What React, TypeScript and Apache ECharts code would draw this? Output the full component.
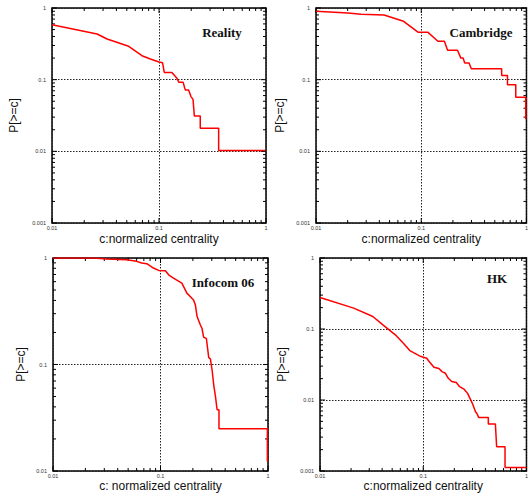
import React, { useEffect, useRef } from "react";
import * as echarts from "echarts";

// ---------- data ----------
const realityC = [0.01, 0.0264, 0.0327, 0.0521, 0.0693, 0.083, 0.1, 0.108, 0.112, 0.132, 0.147, 0.153, 0.168, 0.176, 0.189, 0.199, 0.208, 0.214, 0.243, 0.243, 0.361, 0.361, 0.98];
const realityP = [0.585, 0.434, 0.369, 0.292, 0.216, 0.194, 0.176, 0.172, 0.126, 0.126, 0.105, 0.092, 0.092, 0.072, 0.072, 0.058, 0.053, 0.031, 0.031, 0.021, 0.021, 0.0103, 0.0103];

const cambridgeC = [0.01, 0.0201, 0.0268, 0.0443, 0.068, 0.0938, 0.116, 0.144, 0.166, 0.178, 0.221, 0.238, 0.25, 0.259, 0.285, 0.299, 0.581, 0.581, 0.66, 0.66, 0.791, 0.791, 0.985, 0.985];
const cambridgeP = [0.9, 0.852, 0.816, 0.8, 0.652, 0.457, 0.457, 0.343, 0.343, 0.257, 0.257, 0.2, 0.2, 0.171, 0.171, 0.142, 0.142, 0.114, 0.114, 0.085, 0.085, 0.057, 0.057, 0.028];

const infocomC = [0.01, 0.0237, 0.0315, 0.0484, 0.06, 0.0668, 0.0745, 0.086, 0.096, 0.111, 0.119, 0.132, 0.158, 0.176, 0.189, 0.203, 0.211, 0.219, 0.235, 0.243, 0.252, 0.267, 0.281, 0.291, 0.302, 0.313, 0.325, 0.336, 0.35, 0.35, 0.987, 0.987];
const infocomP = [1, 1, 0.978, 0.964, 0.93, 0.897, 0.884, 0.805, 0.765, 0.76, 0.696, 0.648, 0.581, 0.468, 0.435, 0.404, 0.363, 0.282, 0.235, 0.219, 0.18, 0.176, 0.116, 0.113, 0.0885, 0.0638, 0.0496, 0.0376, 0.0376, 0.0249, 0.0249, 0.0123];

const hkC = [0.01, 0.0212, 0.0325, 0.0404, 0.0537, 0.0642, 0.0741, 0.095, 0.108, 0.114, 0.127, 0.142, 0.152, 0.164, 0.175, 0.189, 0.209, 0.225, 0.25, 0.269, 0.299, 0.321, 0.332, 0.344, 0.427, 0.427, 0.5, 0.514, 0.62, 0.62, 1];
const hkP = [0.278, 0.197, 0.15, 0.115, 0.0827, 0.063, 0.0497, 0.0409, 0.0388, 0.0348, 0.0289, 0.0278, 0.0251, 0.0238, 0.0202, 0.0182, 0.0176, 0.0154, 0.0141, 0.0124, 0.00898, 0.00684, 0.0064, 0.00569, 0.00569, 0.00458, 0.00458, 0.00219, 0.00219, 0.00112, 0.00112];

const titles = ["Reality", "Cambridge", "Infocom 06", "HK"];
const xNames = ["c:normalized centrality", "c:normalized centrality", "c: normalized centrality", "c:normalized centrality"];
const yName = "P[>=c]";
const yMins = [0.001, 0.001, 0.01, 0.001];
const xMin = 0.01;
const xMax = 1;
const yMax = 1;

// ---------- layout ----------
const grids = [
  { left: 52, top: 8, width: 214, height: 215 },
  { left: 316, top: 8, width: 214, height: 215 },
  { left: 53, top: 258, width: 215, height: 213 },
  { left: 320, top: 258, width: 215, height: 213 },
];
const xNameGaps = [10, 10, 8, 8];
const yNameGaps = [32, 30, 26, 32];
const titlePos = [
  [222, 32],
  [481, 32],
  [223, 282],
  [497, 278],
];

const fmt = (v: number) => String(Number(v.toPrecision(3)));

function logTicks(min: number, max: number): number[] {
  const out: number[] = [];
  const e0 = Math.round(Math.log10(min));
  const e1 = Math.round(Math.log10(max));
  for (let e = e0; e < e1; e++) {
    for (let k = 1; k <= 9; k++) out.push(Number((k * Math.pow(10, e)).toPrecision(3)));
  }
  out.push(max);
  return out;
}
const isMajor = (v: number) => Math.abs(Math.log10(v) - Math.round(Math.log10(v))) < 1e-6;

export default function App() {
  const ref = useRef<HTMLDivElement>(null);
  useEffect(() => {
    if (!ref.current) return;
    const chart = echarts.init(ref.current, undefined, { renderer: "svg" });
    const curves = [
      [realityC, realityP],
      [cambridgeC, cambridgeP],
      [infocomC, infocomP],
      [hkC, hkP],
    ];
    const labelFont = "'Liberation Sans', Arial, sans-serif";
    const series: any[] = [];
    curves.forEach(([cs, ps], i) => {
      const yMin = yMins[i];
      series.push({
        type: "line",
        xAxisIndex: i,
        yAxisIndex: i,
        data: cs.map((c, j) => [c, ps[j]]),
        showSymbol: false,
        lineStyle: { color: "#ff0000", width: 1.5 },
        itemStyle: { color: "#ff0000" },
        clip: true,
        z: 5,
      });
      // x ticks (bottom & top, inside)
      series.push({
        type: "custom",
        xAxisIndex: i,
        yAxisIndex: i,
        silent: true,
        data: logTicks(xMin, xMax).map((v) => [v, yMin]),
        renderItem: (_p: any, api: any) => {
          const v = api.value(0);
          const b = api.coord([v, yMin]);
          const t = api.coord([v, yMax]);
          const len = isMajor(v) ? 5 : 3;
          return {
            type: "group",
            children: [
              { type: "line", shape: { x1: b[0], y1: b[1], x2: b[0], y2: b[1] - len }, style: { stroke: "#000", lineWidth: 1 } },
              { type: "line", shape: { x1: t[0], y1: t[1], x2: t[0], y2: t[1] + len }, style: { stroke: "#000", lineWidth: 1 } },
            ],
          };
        },
        z: 4,
      });
      // y ticks (left & right, inside)
      series.push({
        type: "custom",
        xAxisIndex: i,
        yAxisIndex: i,
        silent: true,
        data: logTicks(yMin, yMax).map((v) => [xMin, v]),
        renderItem: (_p: any, api: any) => {
          const v = api.value(1);
          const l = api.coord([xMin, v]);
          const r = api.coord([xMax, v]);
          const len = isMajor(v) ? 5 : 3;
          return {
            type: "group",
            children: [
              { type: "line", shape: { x1: l[0], y1: l[1], x2: l[0] + len, y2: l[1] }, style: { stroke: "#000", lineWidth: 1 } },
              { type: "line", shape: { x1: r[0], y1: r[1], x2: r[0] - len, y2: r[1] }, style: { stroke: "#000", lineWidth: 1 } },
            ],
          };
        },
        z: 4,
      });
    });

    const option: any = {
      animation: false,
      backgroundColor: "#ffffff",
      grid: grids.map((g) => ({
        ...g,
        show: true,
        borderColor: "#000",
        borderWidth: 1.5,
        backgroundColor: "transparent",
        containLabel: false,
      })),
      xAxis: grids.map((_, i) => ({
        type: "log",
        logBase: 10,
        gridIndex: i,
        min: xMin,
        max: xMax,
        name: xNames[i],
        nameLocation: "middle",
        nameGap: xNameGaps[i],
        nameTextStyle: { fontFamily: labelFont, fontSize: 12, color: "#111" },
        axisLine: { show: false },
        axisTick: { show: false },
        axisLabel: { formatter: fmt, fontFamily: labelFont, fontSize: 5.5, color: "#333", margin: 2 },
        splitLine: { show: true, lineStyle: { color: "#222", width: 1, type: [1.5, 1.5] } },
      })),
      yAxis: grids.map((_, i) => ({
        type: "log",
        logBase: 10,
        gridIndex: i,
        min: yMins[i],
        max: yMax,
        name: yName,
        nameLocation: "middle",
        nameGap: yNameGaps[i],
        nameRotate: 90,
        nameTextStyle: { fontFamily: labelFont, fontSize: 12, color: "#111" },
        axisLine: { show: false },
        axisTick: { show: false },
        axisLabel: { formatter: fmt, fontFamily: labelFont, fontSize: 5.5, color: "#333", margin: 6 },
        splitLine: { show: true, lineStyle: { color: "#222", width: 1, type: [1.5, 1.5] } },
      })),
      graphic: titles.map((t, i) => ({
        type: "text",
        x: titlePos[i][0],
        y: titlePos[i][1],
        z: 10,
        style: {
          text: t,
          fontFamily: "'Liberation Serif', 'Times New Roman', serif",
          fontWeight: "bold",
          fontSize: 13,
          fill: "#111",
          textAlign: "center",
          textVerticalAlign: "middle",
        },
      })),
      series,
    };
    chart.setOption(option);
    return () => chart.dispose();
  }, []);
  return (
    <div
      ref={ref}
      style={{ position: "fixed", left: 0, top: 0, width: 531, height: 497, background: "#fff" }}
    />
  );
}
